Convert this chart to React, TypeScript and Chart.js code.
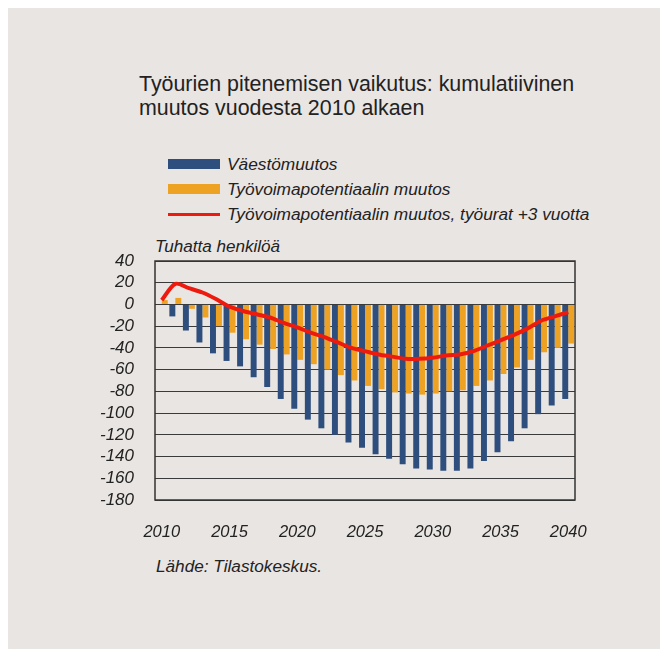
import React, { useEffect, useRef } from "react";
import { Chart, registerables } from "chart.js";

Chart.register(...registerables);

const years: string[] = [
  "2010","2011","2012","2013","2014","2015","2016","2017","2018","2019","2020",
  "2021","2022","2023","2024","2025","2026","2027","2028","2029","2030",
  "2031","2032","2033","2034","2035","2036","2037","2038","2039","2040",
];

const vaestomuutos: number[] = [
  0, -11, -24, -35, -45, -52, -57, -67, -76, -87, -96,
  -106, -114, -120, -127, -132, -138, -142, -147, -151, -152,
  -153, -153, -151, -144, -136, -126, -114, -101, -93, -87,
];

const tyovoimapotentiaali: number[] = [
  4, 6, -4, -12, -20, -26, -32, -37, -41, -46, -51,
  -55, -60, -65, -70, -75, -78, -81, -82, -83, -82,
  -80, -79, -75, -70, -64, -58, -51, -44, -40, -36,
];

const tyourat3: number[] = [
  4, 19, 15, 11, 5, -2, -6, -9, -12, -17, -21,
  -26, -30, -35, -40, -43, -46, -48, -50, -50, -49,
  -47, -46, -43, -38, -33, -28, -22, -15, -11, -7,
];

const titleLines: string[] = [
  "Työurien pitenemisen vaikutus: kumulatiivinen",
  "muutos vuodesta 2010 alkaen",
];
const seriesNames: string[] = [
  "Väestömuutos",
  "Työvoimapotentiaalin muutos",
  "Työvoimapotentiaalin muutos, työurat +3 vuotta",
];
const unitLabel = "Tuhatta henkilöä";
const sourceLabel = "Lähde: Tilastokeskus.";

const BLUE = "#2e4f7e";
const ORANGE = "#eea224";
const RED = "#ee1a0e";
const BG = "#e9e5e2";
const TEXT = "#222222";
const FONT = "'Liberation Sans', Arial, sans-serif";

export default function App() {
  const ref = useRef<HTMLCanvasElement | null>(null);

  useEffect(() => {
    if (!ref.current) return;
    const boxPlugin = {
      id: "boxPlugin",
      beforeDatasetsDraw(chart: any) {
        const { ctx, chartArea } = chart;
        ctx.save();
        ctx.strokeStyle = "#333333";
        ctx.lineWidth = 1.5;
        ctx.strokeRect(chartArea.left, chartArea.top, chartArea.right - chartArea.left, chartArea.bottom - chartArea.top);
        ctx.restore();
      },
    };
    const chart = new Chart(ref.current, {
      type: "bar",
      data: {
        labels: years,
        datasets: [
          {
            type: "line",
            label: seriesNames[2],
            data: tyourat3,
            borderColor: RED,
            backgroundColor: RED,
            borderWidth: 4,
            pointRadius: 0,
            tension: 0.3,
            order: 0,
          } as any,
          {
            label: seriesNames[0],
            data: vaestomuutos,
            backgroundColor: BLUE,
            categoryPercentage: 0.88,
            barPercentage: 1,
            order: 1,
          },
          {
            label: seriesNames[1],
            data: tyovoimapotentiaali,
            backgroundColor: ORANGE,
            categoryPercentage: 0.88,
            barPercentage: 1,
            order: 1,
          },
        ],
      },
      options: {
        responsive: false,
        animation: false,
        layout: { padding: { top: 261, right: 86, left: 0, bottom: 0 } },
        plugins: {
          legend: { display: false },
          title: { display: false },
          tooltip: { enabled: false },
        },
        scales: {
          x: {
            grid: { display: false, drawTicks: false },
            border: { display: false },
            ticks: {
              autoSkip: false,
              maxRotation: 0,
              padding: 23,
              color: TEXT,
              font: { family: FONT, size: 16.5, style: "italic" },
              callback: (_v: any, i: number) => (i % 5 === 0 ? years[i] : ""),
            },
            afterFit: (s: any) => { s.height = 149; },
          },
          y: {
            min: -180,
            max: 40,
            ticks: {
              stepSize: 20,
              autoSkip: false,
              padding: 21,
              color: TEXT,
              font: { family: FONT, size: 17, style: "italic" },
            },
            grid: { color: "#3a3a3a", lineWidth: 1, drawTicks: false },
            border: { display: false },
            afterFit: (s: any) => { s.width = 155; },
          },
        },
      },
      plugins: [boxPlugin],
    });
    return () => chart.destroy();
  }, []);

  const legendRow = (top: number, kind: "bar" | "line", color: string, text: string) => (
    <div style={{ position: "absolute", left: 0, top, height: 20, width: 661 }}>
      <div
        style={{
          position: "absolute",
          left: 168,
          top: kind === "bar" ? 5 : 8.5,
          width: 52,
          height: kind === "bar" ? 10 : 3,
          background: color,
        }}
      />
      <div
        style={{
          position: "absolute",
          left: 227,
          top: 0,
          lineHeight: "20px",
          fontSize: 17.3,
          fontStyle: "italic",
          fontFamily: FONT,
          color: TEXT,
          whiteSpace: "nowrap",
        }}
      >
        {text}
      </div>
    </div>
  );

  return (
    <div style={{ position: "fixed", left: 0, top: 0, width: 661, height: 649, background: "#ffffff", overflow: "hidden" }}>
      <div style={{ position: "absolute", left: 8, top: 8, width: 652, height: 641, background: BG }} />
      <div
        style={{
          position: "absolute",
          left: 139,
          top: 73,
          fontFamily: FONT,
          fontSize: 21.4,
          lineHeight: "23.5px",
          color: TEXT,
          whiteSpace: "nowrap",
        }}
      >
        {titleLines.map((l, i) => (
          <div key={i}>{l}</div>
        ))}
      </div>
      {legendRow(154, "bar", BLUE, seriesNames[0])}
      {legendRow(179, "bar", ORANGE, seriesNames[1])}
      {legendRow(204, "line", RED, seriesNames[2])}
      <div
        style={{
          position: "absolute",
          left: 155,
          top: 237,
          fontFamily: FONT,
          fontSize: 17.1,
          fontStyle: "italic",
          lineHeight: "20px",
          color: TEXT,
          whiteSpace: "nowrap",
        }}
      >
        {unitLabel}
      </div>
      <div
        style={{
          position: "absolute",
          left: 156,
          top: 556,
          fontFamily: FONT,
          fontSize: 17.2,
          fontStyle: "italic",
          lineHeight: "20px",
          color: TEXT,
          whiteSpace: "nowrap",
        }}
      >
        {sourceLabel}
      </div>
      <canvas ref={ref} width={661} height={649} style={{ position: "absolute", left: 0, top: 0 }} />
    </div>
  );
}
